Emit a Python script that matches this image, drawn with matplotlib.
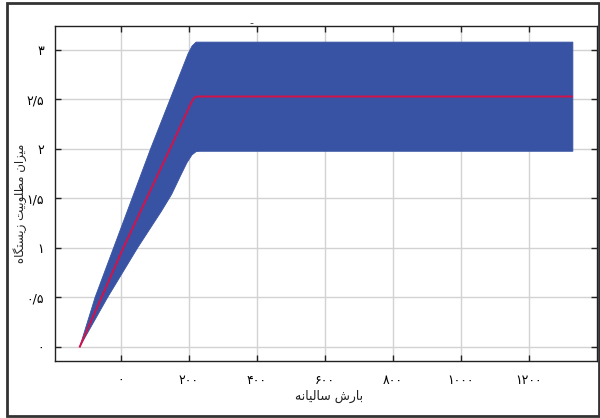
import matplotlib
matplotlib.use("Agg")
import matplotlib.pyplot as plt
from matplotlib.patches import Rectangle

# ---- data ----
upper_x = [-120, -75, 88, 198, 210, 222, 1330]
upper_y = [0.0, 0.5, 2.0, 2.96, 3.04, 3.08, 3.08]
lower_x = [-120, -38, 50, 120, 150, 175, 195, 210, 222, 232, 1330]
lower_y = [0.0, 0.5, 1.0, 1.37, 1.54, 1.72, 1.86, 1.94, 1.972, 1.976, 1.976]
mean_x = [-120, 8, 145, 208, 216, 224, 1327]
mean_y = [0.0, 1.0, 2.0, 2.47, 2.515, 2.53, 2.53]

x_ticks = [0, 200, 400, 600, 800, 1000, 1200]
x_tick_labels = ["۰", "۲۰۰", "۴۰۰", "۶۰۰", "۸۰۰", "۱۰۰۰", "۱۲۰۰"]
y_ticks = [0, 0.5, 1, 1.5, 2, 2.5, 3]
y_tick_labels = ["۰", "۰/۵", "۱", "۱/۵", "۲", "۲/۵", "۳"]
x_label = "بارش سالیانه"
y_label = "میزان مطلوبیت زیستگاه"

# ---- minimal Persian shaping (presentation forms, visual order) ----
FORMS = {  # isolated, final, initial, medial
    'ا': ('\uFE8D', '\uFE8E', None, None),
    'ب': ('\uFE8F', '\uFE90', '\uFE91', '\uFE92'),
    'ت': ('\uFE95', '\uFE96', '\uFE97', '\uFE98'),
    'ر': ('\uFEAD', '\uFEAE', None, None),
    'ز': ('\uFEAF', '\uFEB0', None, None),
    'س': ('\uFEB1', '\uFEB2', '\uFEB3', '\uFEB4'),
    'ش': ('\uFEB5', '\uFEB6', '\uFEB7', '\uFEB8'),
    'ط': ('\uFEC1', '\uFEC2', '\uFEC3', '\uFEC4'),
    'ل': ('\uFEDD', '\uFEDE', '\uFEDF', '\uFEE0'),
    'م': ('\uFEE1', '\uFEE2', '\uFEE3', '\uFEE4'),
    'ن': ('\uFEE5', '\uFEE6', '\uFEE7', '\uFEE8'),
    'ه': ('\uFEE9', '\uFEEA', '\uFEEB', '\uFEEC'),
    'و': ('\uFEED', '\uFEEE', None, None),
    'ی': ('\uFBFC', '\uFBFD', '\uFBFE', '\uFBFF'),
    'گ': ('\uFB92', '\uFB93', '\uFB94', '\uFB95'),
}


def shape(s):
    out = []
    for i, c in enumerate(s):
        if c not in FORMS:
            out.append(c)
            continue
        f = FORMS[c]
        prev = s[i - 1] if i > 0 else None
        nxt = s[i + 1] if i + 1 < len(s) else None
        jp = prev in FORMS and FORMS[prev][2] is not None
        jn = f[2] is not None and nxt in FORMS
        if jp and jn:
            out.append(f[3])
        elif jp:
            out.append(f[1])
        elif jn:
            out.append(f[2])
        else:
            out.append(f[0])
    return ''.join(reversed(out))


plt.rcParams['font.family'] = ['DejaVu Sans']

fig = plt.figure(figsize=(6.0, 4.18), dpi=100)
ax = fig.add_axes([55 / 600, 1 - 361 / 418, (597 - 55) / 600, (361 - 26) / 418])

band_color = '#3853a3'
ax.fill(upper_x + lower_x[::-1], upper_y + lower_y[::-1], color=band_color,
        lw=0.6, edgecolor=band_color, zorder=2)
ax.plot(mean_x, mean_y, color='#d4124a', lw=1.4, zorder=3)

ax.set_xlim(-193, 1401)
ax.set_ylim(-0.145, 3.243)
ax.set_xticks(x_ticks)
ax.set_xticklabels(x_tick_labels)
ax.set_yticks(y_ticks)
ax.set_yticklabels(y_tick_labels)
ax.grid(True, color='#d2d2d2', lw=1.0, zorder=0)
ax.set_axisbelow(True)
ax.tick_params(direction='in', length=4, width=1, color='#222222',
               top=True, right=True, labelsize=9)
ax.tick_params(axis='x', pad=9)
ax.tick_params(axis='y', pad=8)
for sp in ax.spines.values():
    sp.set_color('#222222')
    sp.set_linewidth(1.0)

ax.set_xlabel(shape(x_label), fontsize=9, color='#222222')
ax.xaxis.set_label_coords(0.505, -0.085)
ax.set_ylabel(shape(y_label), fontsize=8.5, color='#222222')
ax.yaxis.set_label_coords(-0.051, 0.472)

fig.text(251 / 600, 1 - 23 / 418, '-', ha='center', va='center', fontsize=8,
         color='#333333')

fig.patches.append(Rectangle((7 / 600, 2 / 418), 592 / 600, 413 / 418,
                             transform=fig.transFigure, fill=False,
                             edgecolor='#333333', lw=2))

fig.savefig('out.png', dpi=100)
